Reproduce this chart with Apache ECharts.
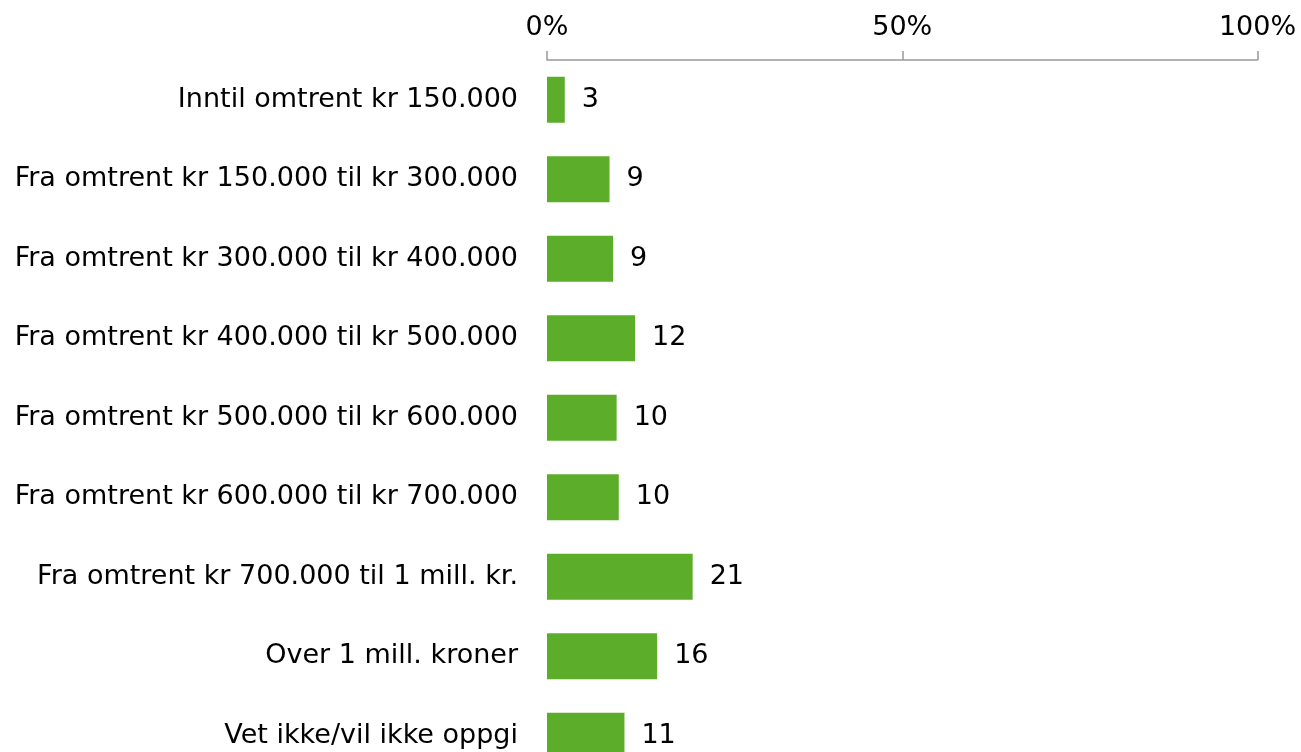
<!DOCTYPE html>
<html>
<head>
<meta charset="utf-8">
<script src="https://cdn.jsdelivr.net/npm/echarts@6/dist/echarts.min.js"></script>
<style>
html,body{margin:0;padding:0;background:#fff;}
#chart{width:1301px;height:752px;}
</style>
</head>
<body>
<div id="chart"></div>
<script>
const categories = [
  "Inntil omtrent kr 150.000",
  "Fra omtrent kr 150.000 til kr 300.000",
  "Fra omtrent kr 300.000 til kr 400.000",
  "Fra omtrent kr 400.000 til kr 500.000",
  "Fra omtrent kr 500.000 til kr 600.000",
  "Fra omtrent kr 600.000 til kr 700.000",
  "Fra omtrent kr 700.000 til 1 mill. kr.",
  "Over 1 mill. kroner",
  "Vet ikke/vil ikke oppgi"
];
const values = [2.5, 8.8, 9.3, 12.4, 9.8, 10.1, 20.5, 15.5, 10.9];
const xTicks = [0, 50, 100];

const FONT = "DejaVu Sans";
const chart = echarts.init(document.getElementById('chart'), null, {renderer: 'canvas'});
chart.setOption({
  animation: false,
  backgroundColor: '#ffffff',
  grid: {left: 547, right: 43.5, top: 60, bottom: -23.5, containLabel: false, outerBoundsMode: 'none'},
  xAxis: {
    type: 'value',
    position: 'top',
    min: xTicks[0],
    max: xTicks[xTicks.length - 1],
    interval: xTicks[1] - xTicks[0],
    axisLine: {show: true, lineStyle: {color: '#999999', width: 1.5}},
    axisTick: {show: true, length: 9, lineStyle: {color: '#999999', width: 1.5}},
    splitLine: {show: false},
    axisLabel: {
      formatter: v => v + '%',
      color: '#000000',
      fontFamily: FONT,
      fontSize: 27,
      margin: 19
    }
  },
  yAxis: {
    type: 'category',
    data: categories,
    inverse: true,
    axisLine: {show: false},
    axisTick: {show: false},
    axisLabel: {
      color: '#000000',
      fontFamily: FONT,
      fontSize: 27,
      margin: 29,
      padding: [5, 0, 0, 0]
    }
  },
  series: [{
    type: 'bar',
    data: values,
    barWidth: 46,
    itemStyle: {color: '#5BAD2A'},
    label: {
      show: true,
      position: 'right',
      distance: 17,
      padding: [5, 0, 0, 0],
      formatter: p => Math.round(p.value),
      color: '#000000',
      fontFamily: FONT,
      fontSize: 27
    }
  }]
});
</script>
</body>
</html>
